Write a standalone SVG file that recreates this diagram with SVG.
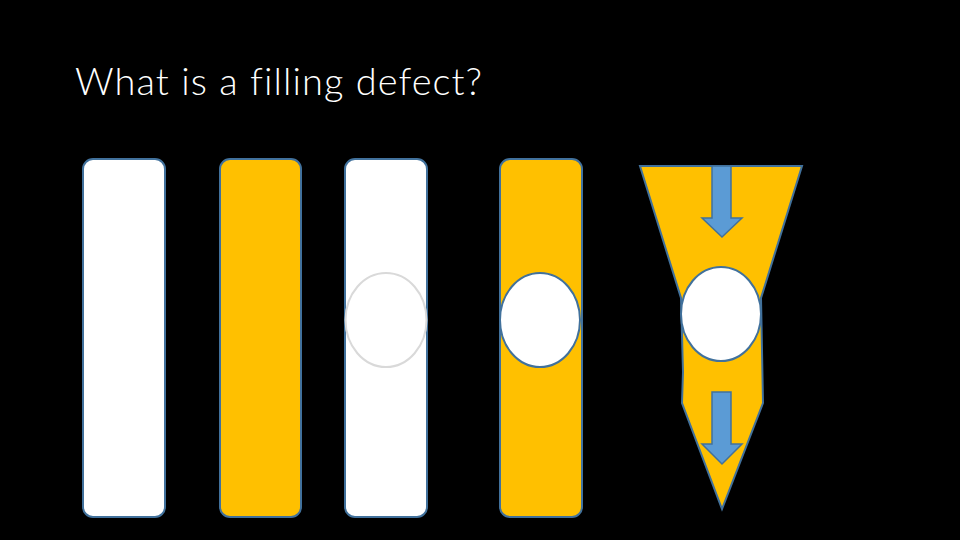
<svg xmlns="http://www.w3.org/2000/svg" width="960" height="540" viewBox="0 0 960 540">
<style>
.bar{stroke:#41719C;stroke-width:2}
.w{fill:#FFFFFF}
.y{fill:#FFC000}
.arr{fill:#5B9BD5;stroke:#41719C;stroke-width:1.5}
.title{font-family:"Lato","Open Sans","Liberation Sans",sans-serif;font-weight:300;font-size:38px;fill:#FFFFFF;font-variant-ligatures:none}
</style>
<rect width="960" height="540" fill="#000000"/>
<text class="title" x="75" y="95" textLength="407" lengthAdjust="spacing">What is a filling defect?</text>
<g id="tube1"><rect class="bar w" x="83" y="159" width="82" height="358" rx="10"/></g>
<g id="tube2"><rect class="bar y" x="220" y="159" width="81" height="358" rx="10"/></g>
<g id="tube3"><rect class="bar w" x="345" y="159" width="82" height="358" rx="10"/>
<ellipse cx="386" cy="320" rx="40.5" ry="47" fill="#FFFFFF" stroke="#D9D9D9" stroke-width="2"/></g>
<g id="tube4"><rect class="bar y" x="500" y="159" width="82" height="358" rx="10"/>
<ellipse cx="540" cy="320" rx="40" ry="47" fill="#FFFFFF" stroke="#41719C" stroke-width="2"/></g>
<g id="funnel">
<path class="bar y" d="M640,166 L802,166 L761,298 L763,403 L722,509 L682,403 L683,372 L681,298 Z"/>
<ellipse cx="721" cy="314" rx="40" ry="47" fill="#FFFFFF" stroke="#41719C" stroke-width="2"/>
</g>
<g id="connectors">
<path class="arr" d="M712,166 L731,166 L731,218 L742,218 L722,237 L702,218 L712,218 Z"/>
<path class="arr" d="M712,392 L731,392 L731,444 L742,444 L722,464 L702,444 L712,444 Z"/>
</g>
</svg>
